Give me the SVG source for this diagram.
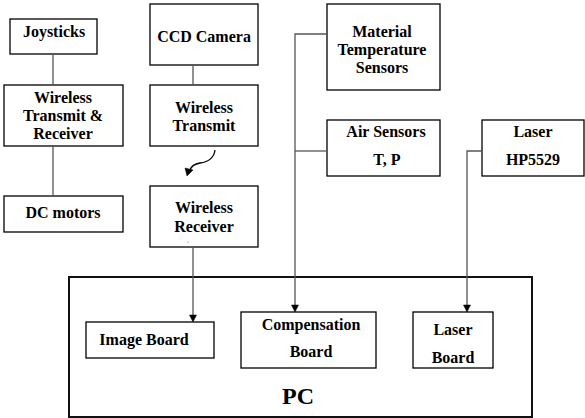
<svg xmlns="http://www.w3.org/2000/svg" width="585" height="418" viewBox="0 0 585 418">
<style>
.box{fill:#fff;stroke:#000;stroke-width:1.3}
.pc{fill:#fff;stroke:#111;stroke-width:2}
text{font-family:'Liberation Serif', 'Times New Roman', Times, serif;font-weight:bold;fill:#000}
.t{font-size:16px;text-anchor:middle}
.pct{font-size:24px}
.c{fill:none;stroke:#555;stroke-width:1.3}
.ah{fill:#000;stroke:#000;stroke-width:0.5}
</style>
<g id="pc"><rect class="pc" x="69" y="277" width="463" height="140"/><text class="pct" x="282" y="404">PC</text></g>
<g id="joysticks"><rect class="box" x="10" y="19" width="87" height="35"/><text class="t" x="54" y="37">Joysticks</text></g>
<g id="wtr"><rect class="box" x="4" y="85" width="119" height="61"/><text class="t" x="63" y="103">Wireless</text><text class="t" x="63" y="121">Transmit &amp;</text><text class="t" x="63" y="139">Receiver</text></g>
<g id="dcmotors"><rect class="box" x="4" y="196" width="119" height="36"/><text class="t" x="63" y="218">DC motors</text></g>
<g id="ccd"><rect class="box" x="150" y="4" width="108" height="61"/><text class="t" x="204" y="42">CCD Camera</text></g>
<g id="wt"><rect class="box" x="150" y="85" width="108" height="61"/><text class="t" x="204" y="113">Wireless</text><text class="t" x="204" y="131">Transmit</text></g>
<g id="wr"><rect class="box" x="150" y="186" width="108" height="61"/><text class="t" x="204" y="213">Wireless</text><text class="t" x="204" y="232">Receiver</text><circle cx="188" cy="242" r="0.6" fill="#666"/></g>
<g id="mts"><rect class="box" x="327" y="4" width="113" height="86"/><text class="t" x="382" y="37">Material</text><text class="t" x="382" y="55">Temperature</text><text class="t" x="382" y="73">Sensors</text></g>
<g id="air"><rect class="box" x="327" y="120" width="113" height="56"/><text class="t" x="386" y="137">Air Sensors</text><text class="t" x="387" y="165">T, P</text></g>
<g id="laser"><rect class="box" x="482" y="120" width="102" height="56"/><text class="t" x="533" y="137">Laser</text><text class="t" x="533" y="165">HP5529</text></g>
<g id="image"><rect class="box" x="86" y="322" width="128" height="36"/><text class="t" x="144" y="345">Image Board</text></g>
<g id="comp"><rect class="box" x="241" y="312" width="135" height="56"/><text class="t" x="311" y="330">Compensation</text><text class="t" x="311" y="357">Board</text></g>
<g id="laserboard"><rect class="box" x="413" y="312" width="80" height="56"/><text class="t" x="453" y="335">Laser</text><text class="t" x="453" y="363">Board</text></g>
<g id="connectors">
<path class="c" d="M53,54 V85"/>
<path class="c" d="M53,146 V196"/>
<path class="c" d="M193,65 V85"/>
<path class="c" d="M215,150 C214,158 208,162 200,163 C194,164 191,167 190,170" style="stroke:#000"/>
<path class="ah" d="M185,168 L193,170 L187,176 z"/>
<path class="c" d="M193,247 V316"/>
<path class="ah" d="M189.5,315 L196.5,315 L193,322 z"/>
<path class="c" d="M327,34 H295 V306"/>
<path class="ah" d="M291.5,305 L298.5,305 L295,312 z"/>
<path class="c" d="M295,151 H327"/>
<path class="c" d="M482,151 H467 V306"/>
<path class="ah" d="M463.5,305 L470.5,305 L467,312 z"/>
</g>
</svg>
